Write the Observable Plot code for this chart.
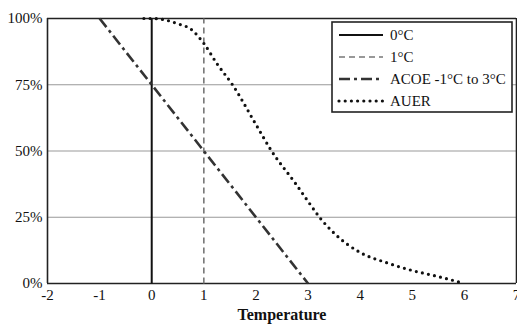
<!DOCTYPE html>
<html><head><meta charset="utf-8">
<script src="https://cdn.jsdelivr.net/npm/d3@7"></script>
<script src="https://cdn.jsdelivr.net/npm/@observablehq/plot@0.6"></script>
<style>body{margin:0;background:#fff;font-family:"Liberation Serif","DejaVu Serif",serif;}</style>
</head><body><div id="chart"></div>
<script>
const xTicks = [-2,-1,0,1,2,3,4,5,6,7];
const yTicks = [0,25,50,75,100];
const seriesNames = ["0°C","1°C","ACOE -1°C to 3°C","AUER"];
const zeroT = [0,0];
const zeroP = [0,100];
const oneT = [1,1];
const oneP = [0,100];
const acoeT = [-1,3];
const acoeP = [100,0];
const auerT = [-0.15,0,0.25,0.5,0.75,1.0,1.25,1.55,2.0,2.3,2.75,3.0,3.22,3.5,4.0,4.5,5.0,5.5,6.0];
const auerP = [100,100,99.5,98,96,90.6,83,75,60,50,38,31,25,19,11.7,7.9,4.9,2.6,0];

const mk = (T,P) => T.map((t,i)=>({t, p:P[i]}));
const styles = [
  {stroke:"#111", strokeWidth:2, dash:null, cap:"butt"},
  {stroke:"#777", strokeWidth:1.6, dash:"6,4", cap:"butt"},
  {stroke:"#333", strokeWidth:2.6, dash:"11,4,3,4", cap:"butt"},
  {stroke:"#111", strokeWidth:3.2, dash:"0,6.2", cap:"round"}
];
const fmtX = d => d < 0 ? "-" + Math.abs(d) : String(d);

const plot = Plot.plot({
  width:517, height:325,
  marginLeft:47, marginRight:1, marginTop:18, marginBottom:42,
  style:{fontFamily:"Liberation Serif", fontSize:"15px", background:"#fff", color:"#111"},
  x:{domain:[-2,7], ticks:xTicks, tickSize:0, tickPadding:6, label:null, tickFormat:fmtX},
  y:{domain:[0,100], ticks:yTicks, tickSize:0, tickPadding:5, label:null, tickFormat:d=>d+"%"},
  marks:[
    Plot.ruleY([25,50,75], {stroke:"#999", strokeWidth:1.2}),
    Plot.ruleY([0,100], {stroke:"#222", strokeWidth:1.6}),
    Plot.ruleX([-2,7], {stroke:"#222", strokeWidth:1.6}),
    ...[[zeroT,zeroP],[oneT,oneP],[acoeT,acoeP]].map(([T,P],i)=>
      Plot.line(mk(T,P), {x:"t", y:"p", stroke:styles[i].stroke, strokeWidth:styles[i].strokeWidth,
        strokeDasharray:styles[i].dash, strokeLinecap:styles[i].cap})),
    Plot.line(mk(auerT,auerP), {x:"t", y:"p", curve:"monotone-x", stroke:styles[3].stroke,
      strokeWidth:styles[3].strokeWidth, strokeDasharray:styles[3].dash, strokeLinecap:"round"}),
    Plot.axisX({ticks:xTicks, tickSize:0, tickPadding:6, tickFormat:fmtX, label:null}),
    Plot.text(["Temperature"], {frameAnchor:"bottom", dy:36, fontWeight:"bold", fontSize:16, textAnchor:"middle"})
  ]
});

// legend box
const svg = d3.select(plot);
const g = svg.append("g").attr("text-anchor","start");
const bx=332, by=22, bw=180, bh=90;
g.append("rect").attr("x",bx).attr("y",by).attr("width",bw).attr("height",bh)
  .attr("fill","#fff").attr("stroke","#222").attr("stroke-width",1.6);
seriesNames.forEach((name,i)=>{
  const y = by + 13 + i*22;
  const s = styles[i];
  g.append("line").attr("x1",bx+7).attr("x2",bx+51).attr("y1",y).attr("y2",y)
    .attr("stroke",s.stroke).attr("stroke-width",s.strokeWidth)
    .attr("stroke-dasharray",s.dash).attr("stroke-linecap",s.cap);
  g.append("text").attr("x",bx+58).attr("y",y).attr("dy","0.35em").attr("text-anchor","start")
    .attr("font-family","Liberation Serif").attr("font-size",15).attr("fill","#111").text(name);
});
document.getElementById("chart").append(plot);
</script></body></html>
